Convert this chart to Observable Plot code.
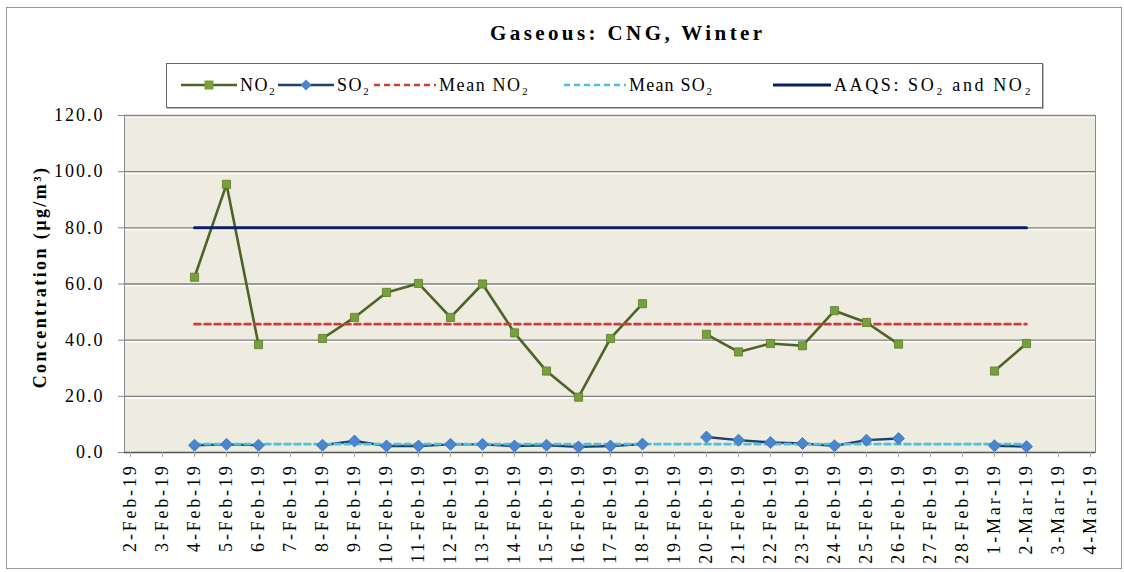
<!DOCTYPE html>
<html><head><meta charset="utf-8">
<script src="https://cdn.jsdelivr.net/npm/d3@7"></script>
<script src="https://cdn.jsdelivr.net/npm/@observablehq/plot@0.6"></script>
<style>
body{margin:0;background:#fff;}
#wrap{position:relative;width:1124px;height:572px;overflow:hidden;font-family:"Liberation Serif","Times New Roman",serif;color:#000;}
#frame{position:absolute;left:6px;top:7px;width:1116px;height:562px;border:1.5px solid #999;box-sizing:border-box;}
#chart{position:absolute;left:0;top:0;}
#title{position:absolute;top:21px;left:490px;font-weight:bold;font-size:21px;letter-spacing:3.4px;white-space:nowrap;}
#ytitle{position:absolute;left:40px;top:277px;transform:translate(-50%,-50%) rotate(-90deg);font-weight:bold;font-size:18px;letter-spacing:2.4px;white-space:nowrap;}
#legend{position:absolute;left:166px;top:63px;width:877px;height:45px;border:1.5px solid #666;box-sizing:border-box;box-shadow:1px 1px 0 #bbb;background:#fff;}
.li{position:absolute;top:0;height:42px;display:flex;align-items:center;font-size:18px;letter-spacing:1.4px;white-space:nowrap;}
.li svg{display:block;}
</style>
</head><body>
<div id="wrap">
  <div id="frame"></div>
  <div id="chart"></div>
  <div id="title"></div>
  <div id="ytitle"></div>
  <div id="legend"></div>
</div>
<script>
const titleText = "Gaseous: CNG, Winter";
const yTitle = "Concentration (µg/m³)";
const dates = ["2-Feb-19","3-Feb-19","4-Feb-19","5-Feb-19","6-Feb-19","7-Feb-19","8-Feb-19","9-Feb-19","10-Feb-19","11-Feb-19","12-Feb-19","13-Feb-19","14-Feb-19","15-Feb-19","16-Feb-19","17-Feb-19","18-Feb-19","19-Feb-19","20-Feb-19","21-Feb-19","22-Feb-19","23-Feb-19","24-Feb-19","25-Feb-19","26-Feb-19","27-Feb-19","28-Feb-19","1-Mar-19","2-Mar-19","3-Mar-19","4-Mar-19"];
const no2 = [null,null,62.4,95.5,38.4,null,40.6,48.1,57.0,60.2,48.1,60.0,42.6,29.0,19.7,40.6,53.0,null,42.1,35.8,38.8,38.0,50.5,46.3,38.6,null,null,29.0,38.8,null,null];
const so2 = [null,null,2.6,2.9,2.6,null,2.6,4.1,2.3,2.3,2.9,2.9,2.3,2.6,2.0,2.3,3.0,null,5.5,4.4,3.6,3.2,2.4,4.4,5.0,null,null,2.4,2.1,null,null];
const meanNO2 = 45.7;
const meanSO2 = 3.0;
const aaqs = 80.0;
const refSpan = ["4-Feb-19","2-Mar-19"];
const yTicks = [0,20,40,60,80,100,120];
const seriesNames = ["NO₂","SO₂","Mean NO₂","Mean SO₂","AAQS: SO₂ and NO₂"];

const C = {
  no2Line:"#4F6228", no2Mark:"#77A03A",
  so2Line:"#1F3F6A", so2Mark:"#4A86CF",
  meanNO2:"#D23B3B", meanSO2:"#4FC0E0", aaqs:"#0B1F66"
};

const rows = dates.map((d,i)=>({date:d, no2: no2[i]==null?NaN:no2[i], so2: so2[i]==null?NaN:so2[i]}));
const refRows = (v)=>refSpan.map(d=>({date:d, v}));

const plot = Plot.plot({
  width:1124, height:572,
  marginLeft:124, marginRight:29, marginTop:115, marginBottom:120,
  style:{background:"transparent", fontFamily:"'Liberation Serif','Times New Roman',serif", color:"#000"},
  x:{type:"point", domain:dates, padding:0},
  y:{domain:[0,120]},
  marks:[
    Plot.frame({fill:"#EEECE1", stroke:"none"}),
    Plot.ruleY(yTicks.filter(t=>t>0), {stroke:"#fff", strokeWidth:1.5, dy:1.6}),
    Plot.ruleY(yTicks.filter(t=>t>0), {stroke:"#808080", strokeWidth:1.4}),
    Plot.frame({stroke:"#8a8a8a", strokeWidth:1}),
    Plot.ruleY([0], {stroke:"#555", strokeWidth:1.5}),
    Plot.axisY({ticks:yTicks, tickFormat:d3.format(".1f"), tickSize:6, tickPadding:14, fontSize:18, label:null, stroke:"#888"}),
    Plot.axisX({tickRotate:-90, tickSize:5, tickPadding:6, fontSize:18, label:null, stroke:"#aaa"}),
    Plot.lineY(rows, {x:"date", y:"no2", stroke:C.no2Line, strokeWidth:2.6}),
    Plot.lineY(rows, {x:"date", y:"so2", stroke:C.so2Line, strokeWidth:2.4}),
    Plot.lineY(refRows(meanNO2), {x:"date", y:"v", stroke:C.meanNO2, strokeWidth:2.6, strokeDasharray:"6,4"}),
    Plot.lineY(refRows(meanSO2), {x:"date", y:"v", stroke:C.meanSO2, strokeWidth:2.6, strokeDasharray:"6,4"}),
    Plot.lineY(refRows(aaqs), {x:"date", y:"v", stroke:C.aaqs, strokeWidth:3}),
    Plot.dot(rows.filter(r=>!isNaN(r.no2)), {x:"date", y:"no2", symbol:"square", r:4.6, fill:C.no2Mark, stroke:"#5d7d2c", strokeWidth:0.8}),
    Plot.dot(rows.filter(r=>!isNaN(r.so2)), {x:"date", y:"so2", symbol:"diamond2", r:5.4, fill:C.so2Mark, stroke:"#3a6fb0", strokeWidth:0.8})
  ]
});
document.getElementById("chart").appendChild(plot);
d3.select(plot).selectAll('g[aria-label="x-axis tick label"] text').style("letter-spacing","2.8px");
d3.select(plot).selectAll('g[aria-label="y-axis tick label"] text').style("letter-spacing","2px");

document.getElementById("title").textContent = titleText;
document.getElementById("ytitle").textContent = yTitle;

// legend
const leg = document.getElementById("legend");
const items = [
  {x:14, name:seriesNames[0], stroke:C.no2Line, dash:null, mark:"square", mfill:C.no2Mark, w:56, ls:1.4},
  {x:111, name:seriesNames[1], stroke:C.so2Line, dash:null, mark:"diamond", mfill:C.so2Mark, w:56, ls:1.4},
  {x:207, name:seriesNames[2], stroke:C.meanNO2, dash:"6,4", mark:null, w:62, ls:1.6},
  {x:397, name:seriesNames[3], stroke:C.meanSO2, dash:"6,4", mark:null, w:62, ls:1.2},
  {x:606, name:seriesNames[4], stroke:C.aaqs, dash:null, mark:null, w:58, sw:3, ls:2.6}
];
items.forEach(it=>{
  const d = document.createElement("div");
  d.className="li"; d.style.left = it.x+"px"; d.style.letterSpacing = it.ls+"px";
  const w = it.w;
  let s = `<svg width="${w}" height="14"><line x1="0" y1="7" x2="${w}" y2="7" stroke="${it.stroke}" stroke-width="${it.sw||2.6}" ${it.dash?`stroke-dasharray="${it.dash}"`:""}/>`;
  if(it.mark==="square") s += `<rect x="${w/2-4.5}" y="2.5" width="9" height="9" fill="${it.mfill}"/>`;
  if(it.mark==="diamond") s += `<path d="M${w/2},1.5 L${w/2+5.5},7 L${w/2},12.5 L${w/2-5.5},7Z" fill="${it.mfill}"/>`;
  s += `</svg>`;
  d.innerHTML = s + `<span style="margin-left:3px">${it.name}</span>`;
  leg.appendChild(d);
});
</script>
</body></html>
